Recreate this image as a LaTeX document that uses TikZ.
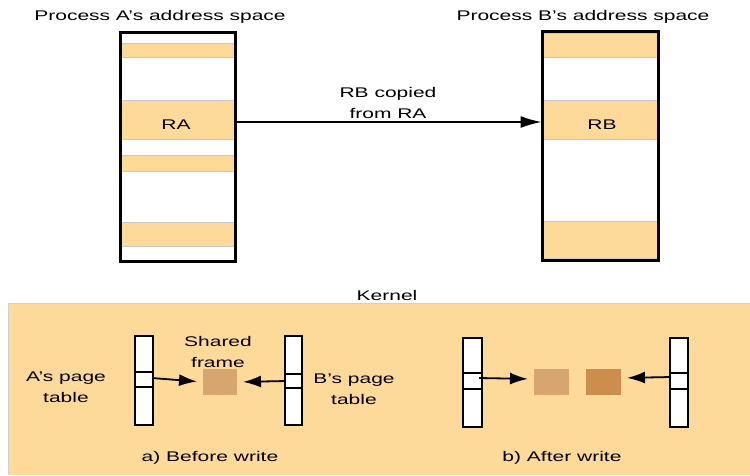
\documentclass[tikz,border=0pt]{standalone}
\usepackage{fontspec}
\setmainfont[FakeStretch=1.5]{Liberation Sans}
\usetikzlibrary{arrows.meta}
\definecolor{peach}{HTML}{FDDA9A}
\definecolor{lightframe}{HTML}{D7A56F}
\definecolor{darkframe}{HTML}{CC8E4C}
\definecolor{bandline}{HTML}{C8C8C8}
\definecolor{kernline}{HTML}{CFCFCF}
\begin{document}
\begin{tikzpicture}[x=1pt,y=-1pt,
  lbl/.style={font=\fontsize{14}{21}\selectfont, inner sep=0pt, align=center},
  spacebox/.style={draw=black, line width=3pt, fill=white, inner sep=0pt, outer sep=0pt, rectangle},
  band/.style={fill=peach, inner sep=0pt, outer sep=0pt, rectangle, font=\fontsize{14}{21}\selectfont},
  cell/.style={draw=black, line width=2.8pt, fill=white, inner sep=0pt, outer sep=0pt, rectangle},
  frame/.style={inner sep=0pt, outer sep=0pt, rectangle, minimum width=34pt, minimum height=26pt},
  bigarrow/.style={line width=1.6pt, -{Latex[length=21pt,width=12pt]}},
  smallarrow/.style={line width=1.8pt, -{Latex[length=18pt,width=12pt]}, shorten >=6pt}
]
\useasboundingbox (0,0) rectangle (750,475);
\fill[white] (0,0) rectangle (750,475);

% Kernel area
\fill[peach] (8,303) rectangle (750,475);
\draw[kernline, line width=0.8pt] (8,475) -- (8,303) -- (750,303);
\node[lbl, anchor=base] (kernel) at (387,300) {Kernel};

% Titles
\node[lbl, anchor=base] (titleA) at (160,20) {Process A's address space};
\node[lbl, anchor=base] (titleB) at (583,20) {Process B's address space};

% Process A address space
\node[spacebox, minimum width=115pt, minimum height=229pt] (boxA) at (177.5,146.5) {};
\node[band, minimum width=113pt, minimum height=14pt] (a1) at (177.5,50) {};
\node[band, minimum width=113pt, minimum height=39pt] (ra) at (177.5,119.5) {};
\node[band, minimum width=113pt, minimum height=16pt] (a3) at (177.5,163) {};
\node[band, minimum width=113pt, minimum height=24pt] (a4) at (177.5,234) {};
\foreach \b in {a1,ra,a3,a4}{
  \draw[bandline, line width=0.6pt] (\b.north west) -- (\b.north east) (\b.south west) -- (\b.south east);
}
\draw[line width=3pt] (boxA.north west) rectangle (boxA.south east);
\node[lbl, anchor=base] (ralbl) at (176,129) {RA};

% Process B address space
\node[spacebox, minimum width=116pt, minimum height=229pt] (boxB) at (600,145.5) {};
\node[band, minimum width=114pt, minimum height=24pt] (b1) at (600,45) {};
\node[band, minimum width=114pt, minimum height=39pt] (rb) at (600,119.5) {};
\node[band, minimum width=114pt, minimum height=37pt] (b3) at (600,239.5) {};
\foreach \b in {b1,rb,b3}{
  \draw[bandline, line width=0.6pt] (\b.north west) -- (\b.north east) (\b.south west) -- (\b.south east);
}
\draw[line width=3pt] (boxB.north west) rectangle (boxB.south east);
\node[lbl, anchor=base] (rblbl) at (602,129) {RB};

% copy arrow
\draw[bigarrow] ([xshift=1pt,yshift=-2.5pt]ra.east) -- ([xshift=-1.5pt,yshift=-2.5pt]rb.west);
\node[lbl] (copylbl) at (388,103) {RB copied\\from RA};

% ---- a) Before write
\node[cell, minimum width=18pt, minimum height=36pt] (pa1t) at (144,354) {};
\node[cell, minimum width=18pt, minimum height=15pt] (pa1m) at (144,379.5) {};
\node[cell, minimum width=18pt, minimum height=38pt] (pa1b) at (144,406) {};
\node[cell, minimum width=17pt, minimum height=38pt] (pb1t) at (293.5,355) {};
\node[cell, minimum width=17pt, minimum height=14pt] (pb1m) at (293.5,381) {};
\node[cell, minimum width=17pt, minimum height=37pt] (pb1b) at (293.5,406.5) {};
\node[frame, fill=lightframe] (shared) at (220,382) {};
\draw[smallarrow] ([xshift=-1pt,yshift=1.5pt]pa1m.east) -- (shared.west);
\draw[smallarrow] ([xshift=1pt]pb1m.west) -- (shared.east);
\node[lbl] (sharedlbl) at (218,352) {Shared\\frame};
\node[lbl] (apt) at (66,387.4) {A's page\\table};
\node[lbl] (bpt) at (354,389) {B's page\\table};
\node[lbl, anchor=base] (before) at (210,461) {a) Before write};

% ---- b) After write
\node[cell, minimum width=19pt, minimum height=35pt] (pa2t) at (472.5,355.5) {};
\node[cell, minimum width=19pt, minimum height=16pt] (pa2m) at (472.5,381) {};
\node[cell, minimum width=19pt, minimum height=38pt] (pa2b) at (472.5,408) {};
\node[cell, minimum width=18pt, minimum height=35pt] (pb2t) at (679,355.5) {};
\node[cell, minimum width=18pt, minimum height=16pt] (pb2m) at (679,381) {};
\node[cell, minimum width=18pt, minimum height=38pt] (pb2b) at (679,408) {};
\node[frame, minimum width=35pt, fill=lightframe] (fr1) at (551.5,382) {};
\node[frame, minimum width=35pt, fill=darkframe] (fr2) at (603.5,382) {};
\draw[smallarrow] ([xshift=-3pt,yshift=3pt]pa2m.east) -- ([yshift=3pt]fr1.west);
\draw[smallarrow] ([xshift=1pt,yshift=4pt]pb2m.west) -- ([yshift=4pt]fr2.east);
\node[lbl, anchor=base] (after) at (562,461) {b) After write};
\end{tikzpicture}
\end{document}
